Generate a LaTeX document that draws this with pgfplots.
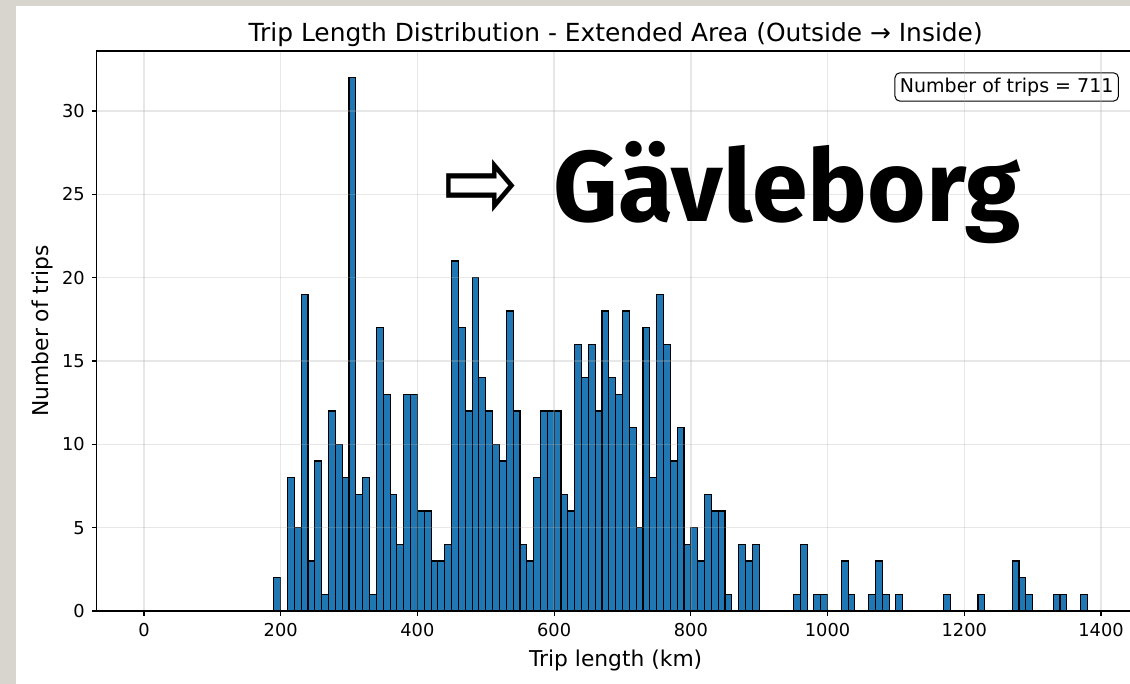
\documentclass[border=0pt]{standalone}
\usepackage{fontspec}
\setmainfont{DejaVu Sans}
\newfontfamily\bigfont{Fira Sans}
\usepackage{graphicx}
\usepackage{pgfplots}
\usepackage{pgfplotstable}
\pgfplotsset{compat=1.18}
\definecolor{barblue}{HTML}{1F77B4}
\definecolor{bordergray}{HTML}{D8D5CF}
\definecolor{gridgray}{HTML}{B0B0B0}

\pgfplotstableread{
x y
0 0
10 0
20 0
30 0
40 0
50 0
60 0
70 0
80 0
90 0
100 0
110 0
120 0
130 0
140 0
150 0
160 0
170 0
180 0
190 2
200 0
210 8
220 5
230 19
240 3
250 9
260 1
270 12
280 10
290 8
300 32
310 7
320 8
330 1
340 17
350 13
360 7
370 4
380 13
390 13
400 6
410 6
420 3
430 3
440 4
450 21
460 17
470 12
480 20
490 14
500 12
510 10
520 9
530 18
540 12
550 4
560 3
570 8
580 12
590 12
600 12
610 7
620 6
630 16
640 14
650 16
660 12
670 18
680 14
690 13
700 18
710 11
720 5
730 17
740 8
750 19
760 16
770 9
780 11
790 4
800 5
810 3
820 7
830 6
840 6
850 1
860 0
870 4
880 3
890 4
900 0
910 0
920 0
930 0
940 0
950 1
960 4
970 0
980 1
990 1
1000 0
1010 0
1020 3
1030 1
1040 0
1050 0
1060 1
1070 3
1080 1
1090 0
1100 1
1110 0
1120 0
1130 0
1140 0
1150 0
1160 0
1170 1
1180 0
1190 0
1200 0
1210 0
1220 1
1230 0
1240 0
1250 0
1260 0
1270 3
1280 2
1290 1
1300 0
1310 0
1320 0
1330 1
1340 1
1350 0
1360 0
1370 1
1380 0
}\triptable

\begin{document}
\begin{tikzpicture}[x=0.5pt,y=0.5pt]
\clip (0,0) rectangle (1130,684);
\fill[bordergray] (0,0) rectangle (1130,684);
\fill[white] (16,0) rectangle (1130,678);
\begin{axis}[
  at={(48.4pt,36.5pt)}, anchor=south west,
  width=518.85pt, height=280pt, scale only axis,
  xmin=-69, xmax=1449, ymin=0, ymax=33.6,
  xtick={0,200,...,1400}, ytick={0,5,...,30},
  tick align=outside, major tick length=2.5pt,
  xtick pos=left, ytick pos=left,
  grid=major,
  grid style={color=gridgray, line width=0.7pt, opacity=0.3},
  axis on top,
  axis line style={line width=0.6pt, black},
  tick style={line width=0.6pt, black},
  ticklabel style={font=\fontsize{8.9}{10}\selectfont},
  /pgf/number format/assume math mode=true,
  /pgf/number format/1000 sep={},
  xlabel={Trip length (km)}, ylabel={Number of trips},
  label style={font=\fontsize{10.9}{12}\selectfont},
  ylabel style={at={(axis description cs:-0.0525,0.5)}, anchor=center},
  title={Trip Length Distribution - Extended Area (Outside → Inside)},
  title style={font=\fontsize{12.45}{14}\selectfont, at={(0.5,1)}, anchor=base, yshift=-1.5pt},
]
\addplot[ybar interval, fill=barblue, draw=black, line width=0.55pt] table[x=x, y=y] {\triptable};
\node[draw=black, fill=white, rounded corners=2.5pt, line width=0.5pt, inner sep=2.5pt, anchor=north east,
  font=\fontsize{9.5}{10}\selectfont] at (rel axis cs:0.985,0.962) {Number of trips = 711};
\end{axis}
\node[anchor=center, inner sep=0pt] at (481,494) {\resizebox{38pt}{30pt}{⇨}};
\node[anchor=base west, inner sep=0pt] at (553,462) {\resizebox{233.5pt}{!}{\bigfont\bfseries Gävleborg}};
\end{tikzpicture}
\end{document}
